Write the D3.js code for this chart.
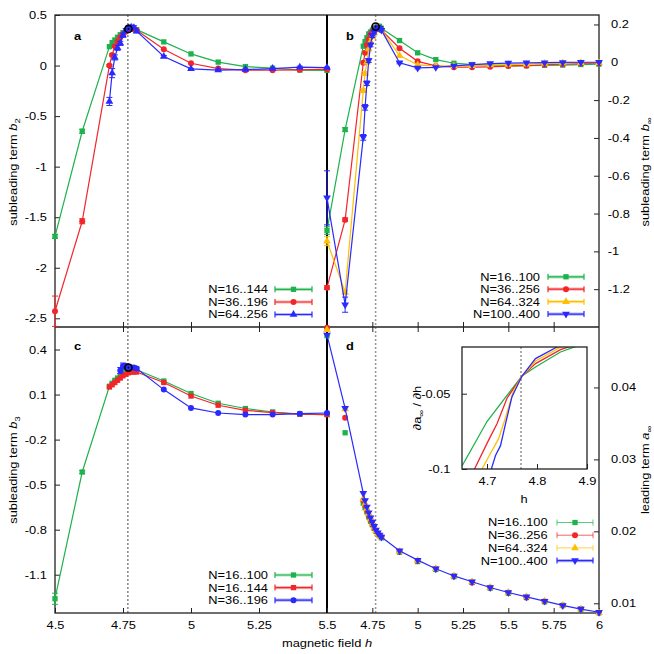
<!DOCTYPE html>
<html><head><meta charset="utf-8">
<script src="https://cdn.jsdelivr.net/npm/d3@7"></script>
<style>
body{margin:0;background:#fff}
text{font-family:"Liberation Sans",Arial,Helvetica,sans-serif;font-size:11px;fill:#000}
</style>
</head><body>
<svg id="c" width="654" height="654"></svg>
<script>
// ---------------- DATA ----------------
const hA = [4.5,4.6,4.7,4.71,4.72,4.73,4.74,4.75,4.76,4.77,4.78,4.79,4.8,4.9,5.0,5.1,5.2,5.3,5.4,5.5];
const hB = [4.5,4.6,4.7,4.71,4.72,4.73,4.74,4.75,4.76,4.77,4.78,4.79,4.8,4.9,5.0,5.1,5.2,5.3,5.4,5.5,5.6,5.7,5.8,5.9,6.0];

// panel a: subleading term b2
const aGreen = [-1.69,-0.65,0.187,0.227,0.253,0.28,0.305,0.325,0.345,0.36,0.37,0.37,0.355,0.234,0.115,0.034,-0.01,-0.026,-0.045,-0.048];
const aGreenErr = [0.02,0.02,0,0,0,0,0,0,0,0,0,0,0,0,0,0,0,0,0,0];
const aRed = [-2.43,-1.54,0.0,0.105,0.19,0.237,0.28,0.31,0.335,0.355,0.365,0.36,0.35,0.162,0.023,-0.03,-0.046,-0.046,-0.042,-0.036];
const aRedErr = [0.15,0.025,0.01,0.01,0.01,0,0,0,0,0,0,0,0,0,0,0,0,0,0,0];
const aBlue = [null,null,-0.355,-0.075,0.08,0.175,0.22,0.3,0.345,0.37,0.38,0.375,0.34,0.089,-0.033,-0.045,-0.04,-0.03,-0.016,-0.02];
const aBlueErr = [0,0,0.04,0.045,0.025,0.025,0.02,0.02,0.02,0.02,0.02,0.02,0.015,0.01,0.005,0.005,0.005,0.005,0.01,0.005];

// panel b: subleading term b_inf
const bGreen = [-0.89,-0.356,0.085,0.11,0.13,0.15,0.16,0.17,0.18,0.185,0.19,0.19,0.18,0.115,0.05,0.014,-0.005,-0.012,-0.015,-0.018,-0.018,-0.016,-0.015,-0.012,-0.01];
const bGreenErr = [0.02,0.01,0,0,0,0,0,0,0,0,0,0,0,0,0,0,0,0,0,0,0,0,0,0,0];
const bRed = [-1.192,-0.833,-0.003,0.05,0.092,0.12,0.145,0.16,0.17,0.18,0.185,0.18,0.17,0.074,0.005,-0.019,-0.026,-0.026,-0.024,-0.02,-0.018,-0.013,-0.01,-0.007,-0.005];
const bRedErr = [0.01,0.01,0,0,0,0,0,0,0,0,0,0,0,0,0,0,0,0,0,0,0,0,0,0,0];
const bYellow = [-0.946,-1.216,-0.15,-0.06,0.0,0.07,0.11,0.135,0.155,0.17,0.18,0.18,0.17,0.035,-0.014,-0.02,-0.02,-0.018,-0.015,-0.012,-0.01,-0.006,-0.004,-0.002,-0.002];
const bYellowErr = [0.024,0.01,0.01,0.01,0,0,0,0,0,0,0,0,0,0,0,0,0,0,0,0,0,0,0,0,0];
const bBlue = [-0.717,-1.282,-0.397,-0.238,-0.111,0.009,0.092,0.141,0.16,0.175,0.185,0.18,0.17,-0.003,-0.03,-0.027,-0.019,-0.012,-0.007,-0.004,-0.003,-0.002,-0.001,0,0];
const bBlueErr = [0.143,0.04,0.015,0.015,0.012,0.01,0.01,0.01,0.01,0.01,0.005,0.005,0.005,0.005,0.005,0,0,0,0,0,0,0,0,0,0];

// panel c: subleading term b3
const cGreen = [-1.26,-0.416,0.155,0.175,0.195,0.21,0.225,0.24,0.255,0.265,0.27,0.27,0.265,0.19,0.107,0.042,0.007,-0.016,-0.03,-0.033];
const cGreenErr = [0.037,0.01,0,0,0,0,0,0,0,0,0,0,0,0,0,0,0,0,0,0];
const cRed = [null,null,0.15,0.165,0.18,0.195,0.21,0.225,0.235,0.245,0.25,0.25,0.25,0.18,0.09,0.029,-0.005,-0.02,-0.03,-0.033];
const cBlue = [null,null,null,null,null,null,0.26,0.29,0.29,0.285,0.28,0.28,0.273,0.133,0.011,-0.023,-0.033,-0.033,-0.027,-0.023];
const cBlueErr = [0,0,0,0,0,0,0.02,0.02,0.015,0.015,0.01,0.01,0.01,0,0,0,0,0,0,0];

// panel d: leading term a_inf
const dGreen = [0.0472,0.0337,0.0239,0.0233,0.0227,0.022,0.0214,0.0209,0.0204,0.02,0.0197,0.0194,0.0191,0.0171,0.0158,0.0147,0.0137,0.0129,0.0121,0.0114,0.0108,0.0102,0.0097,0.0092,0.0087];
const dRed = [0.0483,0.0358,0.0243,0.0236,0.0229,0.0222,0.0216,0.021,0.0205,0.0201,0.0197,0.0194,0.0192,0.0172,0.0159,0.0148,0.0138,0.0129,0.0122,0.0115,0.0108,0.0103,0.0097,0.0092,0.0087];
const dYellow = [0.048,0.037,0.0245,0.0238,0.0231,0.0224,0.0217,0.0211,0.0206,0.0201,0.0197,0.0194,0.0192,0.0172,0.0159,0.0148,0.0138,0.013,0.0122,0.0115,0.0109,0.0103,0.0097,0.0092,0.0087];
const dBlue = [0.0473,0.0371,0.0253,0.0243,0.0234,0.0226,0.0219,0.0213,0.0207,0.0202,0.0198,0.0195,0.0192,0.0173,0.016,0.0148,0.0138,0.013,0.0122,0.0115,0.0109,0.0103,0.0097,0.0092,0.00875];

// inset: d a_inf / d h
const iGreenH = [4.65,4.70,4.745,4.77,4.797,4.847,4.9];
const iGreenV = [-0.098,-0.0685,-0.049,-0.0383,-0.0323,-0.0223,-0.016];
const iRedH = [4.65,4.675,4.703,4.72,4.74,4.77,4.797,4.847,4.9];
const iRedV = [-0.116,-0.1,-0.081,-0.07,-0.053,-0.0383,-0.03,-0.0207,-0.015];
const iYellowH = [4.69,4.703,4.723,4.737,4.753,4.77,4.797,4.847,4.9];
const iYellowV = [-0.1,-0.092,-0.08,-0.066,-0.048,-0.0383,-0.0283,-0.0191,-0.014];
const iBlueH = [4.705,4.717,4.727,4.737,4.75,4.77,4.797,4.84,4.9];
const iBlueV = [-0.104,-0.091,-0.0845,-0.07,-0.052,-0.0383,-0.0267,-0.019,-0.013];

// critical field and peak markers
const hCrit = 4.768;
const peakA = [4.77, 0.362], peakB = [4.768, 0.189], peakC = [4.77, 0.28];

// tick values
const yTicksA = [0.5,0,-0.5,-1,-1.5,-2,-2.5];
const yTicksB = [0.2,0,-0.2,-0.4,-0.6,-0.8,-1,-1.2];
const yTicksC = [0.4,0.1,-0.2,-0.5,-0.8,-1.1];
const yTicksD = [0.01,0.02,0.03,0.04];
const xTicksL = [4.5,4.75,5,5.25,5.5];
const xTicksR = [4.75,5,5.25,5.5,5.75,6];
const xTicksInset = [4.7,4.8,4.9];
const yTicksInset = [-0.05,-0.1];

const legA = ["N=16..144","N=36..196","N=64..256"];
const legB = ["N=16..100","N=36..256","N=64..324","N=100..400"];
const legC = ["N=16..100","N=16..144","N=36..196"];
const legD = ["N=16..100","N=36..256","N=64..324","N=100..400"];

// ---------------- STYLE ----------------
const GREEN = "#1db24b", RED = "#f2262a", YELLOW = "#ffbf00", BLUE = "#2a2aff";
const L = 55, R = 599, MX = 327, T = 15, B = 613, MY = 327;
const SX = 1.17; // horizontal glyph stretch of the reference typeface

const svg = d3.select("#c");
svg.append("rect").attr("width",654).attr("height",654).attr("fill","#fff");

const xL = d3.scaleLinear([4.5,5.5],[L,MX]);
const xR = d3.scaleLinear([4.5,6],[MX,R]);
const yA = d3.scaleLinear([-2.586,0.5],[MY,T]);
const yB = d3.scaleLinear([-1.4,0.25],[MY,T]);
const yC = d3.scaleLinear([-1.355,0.55],[B,MY]);
const yD = d3.scaleLinear([0.00865,0.0484],[B,MY]);
const xI = d3.scaleLinear([4.65,4.9],[462,587]);
const yI = d3.scaleLinear([-0.1,-0.019],[469,347]);

// horizontal text with stretched glyphs
function htext(g,x,y,str,anchor){
  return g.append("text").attr("transform",`translate(${x},${y}) scale(${SX},1)`)
          .attr("text-anchor",anchor||"start").text(str);
}
function symPath(type){
  if(type==="sq") return d3.symbol(d3.symbolSquare,28)();
  if(type==="ci") return d3.symbol(d3.symbolCircle,28)();
  return d3.symbol(d3.symbolTriangle,26)();
}
function marker(g,type,x,y,color){
  g.append("path").attr("d",symPath(type))
   .attr("transform",`translate(${x},${y})${type==="td"?" rotate(180)":""}`)
   .attr("fill",color);
}
function series(g,xs,ys,hs,vs,es,color,type,withLine){
  const pts = hs.map((h,i)=>({h:h,v:vs[i],e:es?es[i]:0})).filter(p=>p.v!==null);
  if(withLine){
    g.append("path").attr("d",d3.line().x(p=>xs(p.h)).y(p=>ys(p.v))(pts))
     .attr("fill","none").attr("stroke",color).attr("stroke-width",1.2);
  }
  pts.forEach(p=>{
    if(p.e>0){
      const x=xs(p.h), y1=ys(p.v-p.e), y2=ys(p.v+p.e);
      g.append("path").attr("d",`M${x},${y1}V${y2}M${x-3},${y1}H${x+3}M${x-3},${y2}H${x+3}`)
       .attr("stroke",color).attr("stroke-width",1).attr("fill","none");
    }
    marker(g,type,xs(p.h),ys(p.v),color);
  });
}
function ring(g,x,y){
  g.append("circle").attr("cx",x).attr("cy",y).attr("r",3.6).attr("fill","none").attr("stroke","#000").attr("stroke-width",1.6);
  g.append("circle").attr("cx",x).attr("cy",y).attr("r",0.9).attr("fill","#000");
}
function legend(g,labels,colors,types,textX,x1,x2,rows,thin){
  labels.forEach((lab,i)=>{
    const y=rows[i], c=colors[i];
    htext(g,textX,y+3.9,lab,"end");
    const light = thin && thin[i];
    if(!light){
      g.append("path").attr("d",`M${x1},${y}H${x2}`).attr("stroke",c).attr("stroke-opacity",0.35).attr("stroke-width",3.2);
    }
    g.append("path").attr("d",`M${x1},${y}H${x2}M${x1},${y-3}V${y+3}M${x2},${y-3}V${y+3}`)
     .attr("stroke",c).attr("stroke-width",light?0.9:1.2).attr("stroke-opacity",light?0.8:1).attr("fill","none");
    marker(g,types[i],(x1+x2)/2,y,c);
  });
}
function axis(gen,tx,ty,padPos){
  const g = svg.append("g").attr("transform",`translate(${tx},${ty})`).call(gen);
  g.attr("font-family",null).attr("font-size",null);
  g.select(".domain").remove();
  g.selectAll("line").attr("stroke","#222").attr("stroke-width",1);
  g.selectAll("text").each(function(d){
    const t=d3.select(this);
    let x=+t.attr("x")||0;
    if(padPos && d>=0) x+=padPos;
    t.attr("x",x/SX).attr("transform",`scale(${SX},1)`);
  });
  return g;
}
const fmt = d=>String(d);

// dotted critical lines
svg.append("line").attr("x1",xL(hCrit)).attr("x2",xL(hCrit)).attr("y1",T).attr("y2",B)
   .attr("stroke","#444").attr("stroke-width",1).attr("stroke-dasharray","2,2");
svg.append("line").attr("x1",xR(hCrit)).attr("x2",xR(hCrit)).attr("y1",T).attr("y2",B)
   .attr("stroke","#999").attr("stroke-width",1.6).attr("stroke-dasharray","2,2");

// frame
svg.append("rect").attr("x",L).attr("y",T).attr("width",R-L).attr("height",B-T)
   .attr("fill","none").attr("stroke","#222").attr("stroke-width",1.3);
svg.append("line").attr("x1",L).attr("x2",R).attr("y1",MY).attr("y2",MY).attr("stroke","#222").attr("stroke-width",1.3);
svg.append("line").attr("x1",MX).attr("x2",MX).attr("y1",T).attr("y2",B).attr("stroke","#000").attr("stroke-width",2);

// axes
axis(d3.axisLeft(yA).tickValues(yTicksA).tickSizeInner(-5).tickSizeOuter(0).tickPadding(8).tickFormat(fmt),L,0);
axis(d3.axisLeft(yC).tickValues(yTicksC).tickSizeInner(-5).tickSizeOuter(0).tickPadding(8).tickFormat(fmt),L,0);
axis(d3.axisRight(yB).tickValues(yTicksB).tickSizeInner(-5).tickSizeOuter(0).tickPadding(8.7).tickFormat(fmt),R,0,3.3);
axis(d3.axisRight(yD).tickValues(yTicksD).tickSizeInner(-5).tickSizeOuter(0).tickPadding(8.7).tickFormat(fmt),R,0,3.3);
axis(d3.axisBottom(xL).tickValues([4.75,5,5.25]).tickSizeInner(-5).tickSizeOuter(0).tickFormat(""),0,MY);
axis(d3.axisTop(xL).tickValues([4.75,5,5.25]).tickSizeInner(-5).tickSizeOuter(0).tickFormat(""),0,MY);
axis(d3.axisBottom(xR).tickValues([4.75,5,5.25,5.5,5.75]).tickSizeInner(-5).tickSizeOuter(0).tickFormat(""),0,MY);
axis(d3.axisTop(xR).tickValues([4.75,5,5.25,5.5,5.75]).tickSizeInner(-5).tickSizeOuter(0).tickFormat(""),0,MY);
axis(d3.axisBottom(xL).tickValues(xTicksL).tickSizeInner(-5).tickSizeOuter(0).tickPadding(8).tickFormat(fmt),0,B);
axis(d3.axisBottom(xR).tickValues(xTicksR).tickSizeInner(-5).tickSizeOuter(0).tickPadding(8).tickFormat(fmt),0,B);

// axis titles
function ylabel(x,y,pre,sym,sub){
  const t = svg.append("text").attr("transform",`translate(${x},${y}) rotate(-90) scale(${SX},1)`).attr("text-anchor","middle");
  t.append("tspan").text(pre);
  t.append("tspan").attr("font-style","italic").text(sym);
  t.append("tspan").attr("font-size","8px").attr("dy","3").text(sub);
}
ylabel(17,172,"subleading term ","b","2");
ylabel(17,470,"subleading term ","b","3");
ylabel(649,172,"subleading term ","b","\u221E");
ylabel(649,470,"leading term ","a","\u221E");
const xl = svg.append("text").attr("transform",`translate(327,647) scale(${SX},1)`).attr("text-anchor","middle");
xl.append("tspan").text("magnetic field ");
xl.append("tspan").attr("font-style","italic").text("h");

// panel letters
[["a",77.5,40],["b",350,40],["c",77.5,350],["d",350,350]].forEach(p=>{
  htext(svg,p[1],p[2],p[0],"middle").attr("font-weight","bold");
});

// ---------------- DATA MARKS ----------------
const gA = svg.append("g");
series(gA,xL,yA,hA,aGreen,aGreenErr,GREEN,"sq",true);
series(gA,xL,yA,hA,aRed,aRedErr,RED,"ci",true);
series(gA,xL,yA,hA,aBlue,aBlueErr,BLUE,"tu",true);
ring(gA,xL(peakA[0]),yA(peakA[1]));

const gB = svg.append("g");
series(gB,xR,yB,hB,bGreen,bGreenErr,GREEN,"sq",true);
series(gB,xR,yB,hB,bRed,bRedErr,RED,"ci",true);
series(gB,xR,yB,hB,bYellow,bYellowErr,YELLOW,"tu",true);
series(gB,xR,yB,hB,bBlue,bBlueErr,BLUE,"td",true);
ring(gB,xR(peakB[0]),yB(peakB[1]));

const gC = svg.append("g");
series(gC,xL,yC,hA,cGreen,cGreenErr,GREEN,"sq",true);
series(gC,xL,yC,hA,cRed,null,RED,"sq",true);
series(gC,xL,yC,hA,cBlue,cBlueErr,BLUE,"ci",true);
ring(gC,xL(peakC[0]),yC(peakC[1]));

const gD = svg.append("g");
series(gD,xR,yD,hB,dGreen,null,GREEN,"sq",false);
series(gD,xR,yD,hB,dRed,null,RED,"ci",false);
series(gD,xR,yD,hB,dYellow,null,YELLOW,"tu",false);
series(gD,xR,yD,hB,dBlue,null,BLUE,"td",true);

// legends
legend(svg,legA,[GREEN,RED,BLUE],["sq","ci","tu"],268,275,312,[289.3,302,314.5]);
legend(svg,legB,[GREEN,RED,YELLOW,BLUE],["sq","ci","tu","td"],540,548,584,[276.8,289.2,301.7,314.1]);
legend(svg,legC,[GREEN,RED,BLUE],["sq","sq","ci"],268,275,312,[575,587.6,600.2]);
legend(svg,legD,[GREEN,RED,YELLOW,BLUE],["sq","ci","tu","td"],547.7,557,593,[522.5,535.2,547.9,560.6],[true,true,true,false]);

// ---------------- INSET ----------------
svg.append("defs").append("clipPath").attr("id","ic").append("rect")
   .attr("x",462).attr("y",347).attr("width",125).attr("height",122);
svg.append("rect").attr("x",462).attr("y",347).attr("width",125).attr("height",122).attr("fill","#fff");
const gI = svg.append("g").attr("clip-path","url(#ic)");
gI.append("line").attr("x1",xI(hCrit)).attr("x2",xI(hCrit)).attr("y1",347).attr("y2",469)
  .attr("stroke","#999").attr("stroke-width",1.6).attr("stroke-dasharray","2,2");
[[iGreenH,iGreenV,GREEN],[iRedH,iRedV,RED],[iYellowH,iYellowV,YELLOW],[iBlueH,iBlueV,BLUE]].forEach(s=>{
  const pts = s[0].map((h,i)=>[xI(h),yI(s[1][i])]);
  gI.append("path").attr("d",d3.line()(pts)).attr("fill","none").attr("stroke",s[2]).attr("stroke-width",1.3);
});
svg.append("rect").attr("x",462).attr("y",347).attr("width",125).attr("height",122)
   .attr("fill","none").attr("stroke","#222").attr("stroke-width",1.3);
axis(d3.axisLeft(yI).tickValues(yTicksInset).tickSizeInner(-5).tickSizeOuter(0).tickPadding(11.5).tickFormat(fmt),462,0);
axis(d3.axisBottom(xI).tickValues(xTicksInset).tickSizeInner(-5).tickSizeOuter(0).tickPadding(8).tickFormat(fmt),0,469);
htext(svg,524,503,"h","middle");
const il = svg.append("text").attr("transform",`translate(421,408) rotate(-90) scale(${SX},1)`).attr("text-anchor","middle");
il.append("tspan").text("\u2202a");
il.append("tspan").attr("font-size","8px").attr("dy","3").text("\u221E");
il.append("tspan").attr("dy","-3").text(" / \u2202h");
</script>
</body></html>
